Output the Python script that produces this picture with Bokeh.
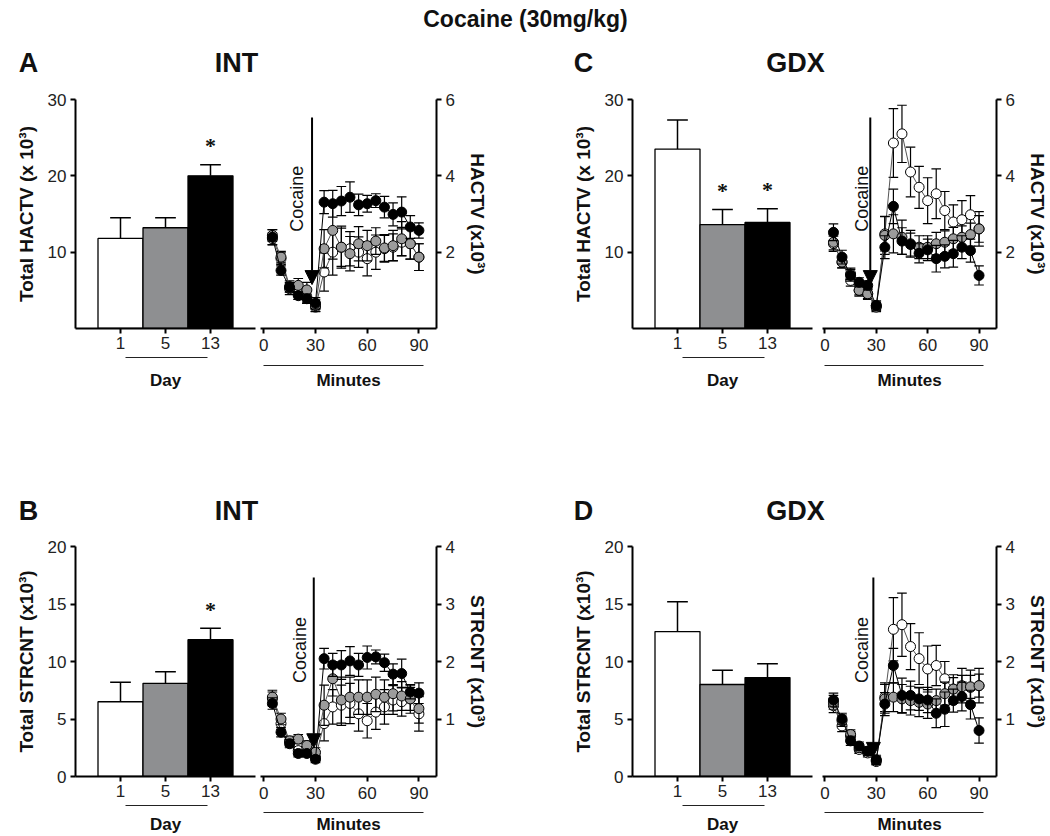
import math
from bokeh.plotting import figure
from bokeh.layouts import column, row
from bokeh.models import Range1d, FixedTicker, Label, Arrow, NormalHead
from bokeh.embed import file_html
from bokeh.resources import INLINE

FONT = "Liberation Sans"

# ---------------- data ----------------
days = ["1", "5", "13"]
minutes = [5, 10, 15, 20, 25, 30, 35, 40, 45, 50, 55, 60, 65, 70, 75, 80, 85, 90]

# Panel A : INT, HACTV
A_total = [11.8, 13.2, 20.0]
A_total_err = [2.7, 1.3, 1.45]
A_sig = [False, False, True]
A_day1 = [2.35, 1.83, 1.04, 0.91, 0.82, 0.56, 1.48, 2.00, 2.13, 2.09, 2.00, 1.83, 2.00, 2.09, 2.13, 2.26, 2.22, 1.87]
A_day1_err = [0.15, 0.15, 0.15, 0.15, 0.15, 0.12, 0.50, 0.60, 0.50, 0.45, 0.40, 0.45, 0.45, 0.35, 0.35, 0.35, 0.40, 0.35]
A_day5 = [2.44, 1.87, 1.10, 1.13, 1.01, 0.60, 2.09, 2.57, 2.13, 1.96, 2.22, 2.17, 2.29, 2.11, 2.17, 2.35, 2.22, 1.87]
A_day5_err = [0.15, 0.15, 0.15, 0.18, 0.20, 0.15, 0.50, 0.75, 0.55, 0.45, 0.45, 0.40, 0.35, 0.35, 0.40, 0.45, 0.40, 0.35]
A_day13 = [2.39, 1.52, 1.08, 0.86, 0.78, 0.66, 3.31, 3.27, 3.34, 3.44, 3.24, 3.27, 3.35, 3.18, 2.99, 3.05, 2.66, 2.57]
A_day13_err = [0.20, 0.12, 0.12, 0.10, 0.12, 0.15, 0.30, 0.35, 0.38, 0.40, 0.28, 0.22, 0.18, 0.28, 0.30, 0.40, 0.30, 0.20]

# Panel C : GDX, HACTV
C_total = [23.5, 13.6, 13.9]
C_total_err = [3.8, 2.0, 1.8]
C_sig = [False, True, True]
C_day1 = [2.22, 1.74, 1.26, 1.00, 0.91, 0.60, 2.48, 4.86, 5.10, 4.10, 3.70, 3.35, 3.53, 3.09, 2.79, 2.85, 2.98, 2.61]
C_day1_err = [0.20, 0.15, 0.15, 0.15, 0.15, 0.12, 0.45, 0.90, 0.75, 0.65, 0.55, 0.60, 0.65, 0.50, 0.45, 0.50, 0.50, 0.45]
C_day5 = [2.26, 1.74, 1.43, 1.00, 0.91, 0.56, 2.44, 2.48, 2.39, 2.22, 2.13, 2.13, 2.22, 2.26, 2.35, 2.39, 2.46, 2.61]
C_day5_err = [0.20, 0.15, 0.15, 0.12, 0.12, 0.12, 0.50, 0.50, 0.45, 0.35, 0.30, 0.30, 0.30, 0.30, 0.30, 0.30, 0.30, 0.35]
C_day13 = [2.52, 1.87, 1.39, 1.21, 1.13, 0.60, 2.13, 3.20, 2.29, 2.20, 1.97, 2.06, 1.83, 1.89, 1.96, 2.13, 2.04, 1.39]
C_day13_err = [0.22, 0.18, 0.15, 0.12, 0.12, 0.12, 0.30, 0.45, 0.35, 0.30, 0.25, 0.28, 0.35, 0.30, 0.35, 0.30, 0.30, 0.25]

# Panel B : INT, STRCNT
B_total = [6.5, 8.1, 11.9]
B_total_err = [1.7, 1.0, 1.0]
B_sig = [False, False, True]
B_day1 = [1.35, 0.92, 0.60, 0.45, 0.48, 0.33, 0.92, 1.21, 1.24, 1.27, 1.09, 0.97, 1.12, 1.21, 1.33, 1.30, 1.35, 1.09]
B_day1_err = [0.12, 0.10, 0.08, 0.07, 0.07, 0.06, 0.30, 0.30, 0.35, 0.35, 0.30, 0.30, 0.30, 0.30, 0.25, 0.25, 0.25, 0.30]
B_day5 = [1.38, 1.00, 0.62, 0.65, 0.54, 0.42, 1.24, 1.70, 1.33, 1.38, 1.38, 1.38, 1.43, 1.38, 1.44, 1.40, 1.35, 1.18]
B_day5_err = [0.12, 0.10, 0.08, 0.08, 0.08, 0.08, 0.35, 0.30, 0.40, 0.35, 0.30, 0.30, 0.30, 0.30, 0.30, 0.25, 0.20, 0.25]
B_day13 = [1.27, 0.77, 0.57, 0.40, 0.40, 0.30, 2.05, 1.94, 1.94, 2.01, 1.94, 2.07, 2.08, 1.98, 1.78, 1.79, 1.47, 1.45]
B_day13_err = [0.10, 0.08, 0.07, 0.06, 0.06, 0.06, 0.18, 0.20, 0.25, 0.25, 0.20, 0.20, 0.12, 0.15, 0.18, 0.25, 0.12, 0.18]

# Panel D : GDX, STRCNT
D_total = [12.6, 8.0, 8.6]
D_total_err = [2.6, 1.25, 1.2]
D_sig = [False, False, False]
D_day1 = [1.23, 0.88, 0.70, 0.47, 0.41, 0.26, 1.38, 2.56, 2.64, 2.26, 2.05, 1.87, 1.93, 1.70, 1.52, 1.58, 1.55, 1.58]
D_day1_err = [0.12, 0.10, 0.08, 0.07, 0.07, 0.06, 0.25, 0.55, 0.55, 0.40, 0.45, 0.40, 0.35, 0.30, 0.25, 0.30, 0.30, 0.30]
D_day5 = [1.29, 0.97, 0.73, 0.50, 0.44, 0.28, 1.35, 1.38, 1.35, 1.32, 1.29, 1.26, 1.32, 1.44, 1.52, 1.56, 1.56, 1.58]
D_day5_err = [0.12, 0.10, 0.08, 0.07, 0.07, 0.06, 0.25, 0.25, 0.25, 0.25, 0.25, 0.25, 0.20, 0.20, 0.20, 0.20, 0.20, 0.20]
D_day13 = [1.33, 1.00, 0.62, 0.53, 0.44, 0.29, 1.26, 1.93, 1.41, 1.41, 1.35, 1.33, 1.10, 1.17, 1.32, 1.39, 1.25, 0.80]
D_day13_err = [0.12, 0.10, 0.08, 0.07, 0.07, 0.08, 0.20, 0.30, 0.30, 0.25, 0.20, 0.22, 0.25, 0.30, 0.20, 0.25, 0.25, 0.22]

# ---------------- style / layout ----------------
BAR_FILL = ["white", "#8e8f91", "black"]
SER_FILL = ["white", "#9c9c9c", "black"]
SER_LINE = ["#555555", "#555555", "black"]
TXT = "#111111"

ROWS = [
    dict(h=276, top=19, bottom=28, bar_max=30, bar_ticks=[10, 20, 30],
         line_max=6, line_ticks=[2, 4, 6],
         strip_h=44, day_gap=0, day_standoff=13, min_gap=8, min_standoff=5),
    dict(h=276, top=18, bottom=28, bar_max=20, bar_ticks=[0, 5, 10, 15, 20],
         line_max=4, line_ticks=[1, 2, 3, 4],
         strip_h=32, day_gap=0, day_standoff=9, min_gap=8, min_standoff=2),
]
COLS = [
    dict(bar_w=257, bar_l=75, bar_r=2, line_w=308, line_l=3, line_r=129, lx0=-1.9, lx1=100.2),
    dict(bar_w=251, bar_l=67, bar_r=4, line_w=234, line_l=6, line_r=54, lx0=-1.4, lx1=100.2),
]


def style_axis(ax, label_size="17px"):
    ax.axis_line_width = 2
    ax.axis_line_color = "black"
    ax.major_tick_line_width = 2
    ax.major_tick_line_color = "black"
    ax.major_tick_out = 5
    ax.major_tick_in = 0
    ax.minor_tick_line_color = None
    ax.minor_tick_out = 0
    ax.minor_tick_in = 0
    ax.major_label_text_font = FONT
    ax.major_label_text_font_size = label_size
    ax.major_label_text_color = "#222222"
    ax.major_label_standoff = 4
    ax.axis_label_text_font = FONT
    ax.axis_label_text_font_style = "bold"
    ax.axis_label_text_font_size = "19px"
    ax.axis_label_text_color = TXT


def strip_fig(width, left, right, x_range, h, gap, bounds, text, standoff):
    """Thin strip under a panel: grouping line plus its label, on the panel's x scale."""
    s = figure(width=width, height=h, x_range=x_range, y_range=Range1d(0, 1),
               output_backend="svg", toolbar_location=None, y_axis_location=None,
               title_location=None, min_border=0,
               min_border_left=left, min_border_right=right,
               min_border_top=gap, min_border_bottom=h - gap - 1)
    s.grid.visible = False
    s.outline_line_color = None
    ax = s.xaxis[0]
    ax.bounds = bounds
    ax.ticker = FixedTicker(ticks=[])
    ax.axis_label = text
    ax.axis_line_width = 1
    ax.axis_line_color = "#222222"
    ax.major_tick_out = 0
    ax.major_tick_in = 0
    ax.minor_tick_out = 0
    ax.minor_tick_in = 0
    ax.major_label_standoff = 0
    ax.axis_label_standoff = standoff
    ax.axis_label_text_font = FONT
    ax.axis_label_text_font_style = "bold"
    ax.axis_label_text_font_size = "17px"
    ax.axis_label_text_color = TXT
    return s


def bar_fig(rc, cc, totals, errs, sig, ylabel):
    xr = Range1d(0, 4)
    p = figure(width=cc["bar_w"], height=rc["h"], x_range=xr,
               y_range=Range1d(0, rc["bar_max"]), output_backend="svg",
               toolbar_location=None, title_location=None,
               min_border_left=cc["bar_l"], min_border_right=cc["bar_r"],
               min_border_top=rc["top"], min_border_bottom=rc["bottom"])
    p.grid.visible = False
    p.outline_line_color = None
    xs = [i + 1 for i in range(len(days))]
    p.vbar(x=xs, top=totals, bottom=0, width=1.0, fill_color=BAR_FILL,
           line_color="black", line_width=1.3)
    tops = [t + e for t, e in zip(totals, errs)]
    p.segment(x0=xs, y0=totals, x1=xs, y1=tops, line_color="black", line_width=1.5)
    p.segment(x0=[x - 0.23 for x in xs], y0=tops, x1=[x + 0.23 for x in xs], y1=tops,
              line_color="black", line_width=1.5)
    sx = [x for x, s in zip(xs, sig) if s]
    sy = [t for t, s in zip(tops, sig) if s]
    if sx:
        p.text(x=sx, y=sy, text=["*"] * len(sx), text_align="center",
               text_baseline="alphabetic", y_offset=-19, text_font_size="22px",
               text_font_style="bold", text_font=FONT, text_color=TXT)
    style_axis(p.xaxis[0])
    style_axis(p.yaxis[0])
    p.xaxis[0].ticker = FixedTicker(ticks=xs)
    p.xaxis[0].major_label_overrides = {x: d for x, d in zip(xs, days)}
    p.xaxis[0].major_label_standoff = 3
    p.yaxis[0].ticker = FixedTicker(ticks=rc["bar_ticks"])
    p.yaxis[0].axis_label = ylabel
    p.yaxis[0].axis_label_standoff = 8
    s = strip_fig(cc["bar_w"], cc["bar_l"], cc["bar_r"], xr, rc["strip_h"], rc["day_gap"],
                  (1.1, 2.93), "Day", rc["day_standoff"])
    return column(p, s)


def line_fig(rc, cc, series, errs, rlabel, arrow, coc):
    xr = Range1d(cc["lx0"], cc["lx1"])
    q = figure(width=cc["line_w"], height=rc["h"], x_range=xr,
               y_range=Range1d(0, rc["line_max"]), y_axis_location="right",
               output_backend="svg", toolbar_location=None, title_location=None,
               min_border_left=cc["line_l"], min_border_right=cc["line_r"],
               min_border_top=rc["top"], min_border_bottom=rc["bottom"])
    q.grid.visible = False
    q.outline_line_color = None
    for vals, er, fc, lc in zip(series, errs, SER_FILL, SER_LINE):
        lo = [v - e for v, e in zip(vals, er)]
        hi = [v + e for v, e in zip(vals, er)]
        q.segment(x0=minutes, y0=lo, x1=minutes, y1=hi, line_color="black", line_width=1.2)
        q.segment(x0=[m - 2.8 for m in minutes], y0=lo, x1=[m + 2.8 for m in minutes], y1=lo,
                  line_color="black", line_width=1.2)
        q.segment(x0=[m - 2.8 for m in minutes], y0=hi, x1=[m + 2.8 for m in minutes], y1=hi,
                  line_color="black", line_width=1.2)
        q.line(minutes, vals, line_color=lc, line_width=1)
        q.scatter(minutes, vals, marker="circle", size=10, fill_color=fc,
                  line_color="black", line_width=1)
    ax, ay_top, ay_tip = arrow
    q.add_layout(Arrow(end=NormalHead(size=14, fill_color="black", line_color="black"),
                       x_start=ax, y_start=ay_top, x_end=ax, y_end=ay_tip,
                       line_color="black", line_width=2))
    q.add_layout(Label(x=coc[0], y=coc[1], text="Cocaine", angle=math.pi / 2,
                       text_font=FONT, text_font_size="18px", text_align="center",
                       text_baseline="middle", text_color=TXT))
    style_axis(q.xaxis[0])
    style_axis(q.yaxis[0])
    q.xaxis[0].ticker = FixedTicker(ticks=[0, 30, 60, 90])
    q.xaxis[0].major_label_standoff = 5
    q.yaxis[0].ticker = FixedTicker(ticks=rc["line_ticks"])
    q.yaxis[0].axis_label = rlabel
    q.yaxis[0].axis_label_standoff = 9
    s = strip_fig(cc["line_w"], cc["line_l"], cc["line_r"], xr, rc["strip_h"], rc["min_gap"],
                  (0, 92.5), "Minutes", rc["min_standoff"])
    return column(q, s)


def header_fig(h, texts):
    f = figure(width=1050, height=h, x_range=Range1d(0, 1050), y_range=Range1d(0, h),
               output_backend="svg", toolbar_location=None, min_border=0,
               title_location=None, x_axis_location=None, y_axis_location=None)
    f.grid.visible = False
    f.outline_line_color = None
    for x, y, t, size in texts:
        f.add_layout(Label(x=x, y=y, text=t, text_font=FONT, text_font_style="bold",
                           text_font_size=size, text_align="center",
                           text_baseline="middle", text_color=TXT))
    return f


head1 = header_fig(80, [(525, 62, "Cocaine (30mg/kg)", "23px"),
                        (28, 18, "A", "27px"), (236, 18, "INT", "27px"),
                        (583, 18, "C", "27px"), (795, 18, "GDX", "27px")])
head2 = header_fig(128, [(28, 18, "B", "27px"), (236, 18, "INT", "27px"),
                         (583, 18, "D", "27px"), (795, 18, "GDX", "27px")])

colA = bar_fig(ROWS[0], COLS[0], A_total, A_total_err, A_sig, "Total HACTV (x 10³)")
colA2 = line_fig(ROWS[0], COLS[0], [A_day1, A_day5, A_day13], [A_day1_err, A_day5_err, A_day13_err],
                 "HACTV (x10³)", (28, 5.53, 1.15), (19.4, 3.4))
colC = bar_fig(ROWS[0], COLS[1], C_total, C_total_err, C_sig, "Total HACTV (x 10³)")
colC2 = line_fig(ROWS[0], COLS[1], [C_day1, C_day5, C_day13], [C_day1_err, C_day5_err, C_day13_err],
                 "HACTV (x10³)", (26.5, 5.53, 1.15), (21.7, 3.4))
colB = bar_fig(ROWS[1], COLS[0], B_total, B_total_err, B_sig, "Total STRCNT (x10³)")
colB2 = line_fig(ROWS[1], COLS[0], [B_day1, B_day5, B_day13], [B_day1_err, B_day5_err, B_day13_err],
                 "STRCNT (x10³)", (29, 3.46, 0.5), (21.3, 2.2))
colD = bar_fig(ROWS[1], COLS[1], D_total, D_total_err, D_sig, "Total STRCNT (x10³)")
colD2 = line_fig(ROWS[1], COLS[1], [D_day1, D_day5, D_day13], [D_day1_err, D_day5_err, D_day13_err],
                 "STRCNT (x10³)", (28.3, 3.46, 0.35), (21.4, 2.2))

layout = column(head1,
                row(colA, colA2, colC, colC2),
                head2,
                row(colB, colB2, colD, colD2))

open("out.html", "w").write(file_html(layout, INLINE))
